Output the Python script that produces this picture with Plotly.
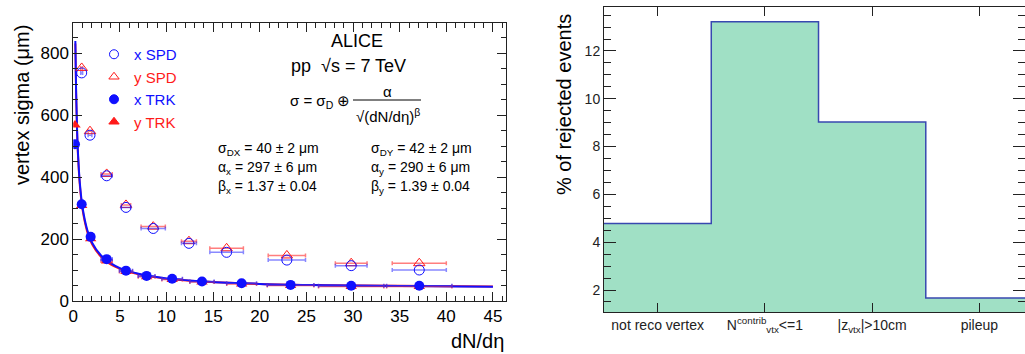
import numpy as np
import plotly.graph_objects as go

# ---------------- data: left panel (vertex resolution vs dN/deta) ----------------
trk_x = [0.18, 0.9, 1.86, 3.58, 5.65, 7.86, 10.6, 13.8, 18.05, 23.3, 29.8, 37.1]
trk_xerr = [0.1, 0.2, 0.3, 0.6, 0.7, 0.9, 1.1, 1.3, 1.6, 2.5, 3.5, 3.5]
trk_sigma_x = [506, 312, 207, 135, 98, 81, 72, 63, 57, 52, 49, 49]
trk_sigma_y = [568, 308, 201, 129, 95, 78, 69, 61, 55, 50, 47, 47]

spd_x = [0.9, 1.79, 3.58, 5.65, 8.57, 12.4, 16.44, 22.9, 29.8, 37.1]
spd_xerr = [0.1, 0.2, 0.6, 0.5, 1.3, 0.8, 1.8, 2.0, 1.7, 2.9]
spd_sigma_x = [736, 535, 404, 302, 234, 186, 157, 132, 114, 100]
spd_sigma_y = [752, 548, 410, 310, 240, 193, 170, 147, 122, 122]

# fit curves
fit_d = [0.22, 0.3, 0.4, 0.5, 0.7, 1.0, 1.5, 2, 3, 4, 5, 7, 10, 14, 20, 27, 35, 45]
fit_sigma_x = [839, 679, 558, 479, 381, 300, 229, 189, 146, 122, 106, 88, 73, 63, 55, 51, 48, 46]
fit_sigma_y = [831, 671, 550, 471, 374, 293, 223, 184, 142, 118, 104, 86, 72, 63, 55, 51, 49, 47]

x_ticks = [0, 5, 10, 15, 20, 25, 30, 35, 40, 45]
y_ticks = [0, 200, 400, 600, 800]

# ---------------- data: right panel (rejected events) ----------------
categories = ["not reco vertex", "N<sup>contrib</sup><sub>vtx</sub>&lt;=1",
              "|z<sub>vtx</sub>|&gt;10cm", "pileup"]
rejected_pct = [4.78, 13.22, 9.03, 1.67]
y2_ticks = [2, 4, 6, 8, 10, 12]

W, H = 1025, 354
def px(x):
    return x / W
def py(y):
    return 1 - y / H

BLUE = "#1010ff"
RED = "#ff1a1a"
FONT = "Liberation Sans, Arial, sans-serif"

fig = go.Figure()

# fit curves
fig.add_trace(go.Scatter(x=fit_d, y=fit_sigma_y, mode="lines", line=dict(color=RED, width=2, shape="spline"),
                         showlegend=False, xaxis="x", yaxis="y"))
fig.add_trace(go.Scatter(x=fit_d, y=fit_sigma_x, mode="lines", line=dict(color=BLUE, width=2, shape="spline"),
                         showlegend=False, xaxis="x", yaxis="y"))

# SPD points
fig.add_trace(go.Scatter(x=spd_x, y=spd_sigma_y, mode="markers",
                         marker=dict(symbol="triangle-up-open", size=10, color=RED, line=dict(width=1, color=RED)),
                         error_x=dict(type="data", array=spd_xerr, color="rgba(255,40,40,0.6)", thickness=1.5, width=2),
                         showlegend=False))
fig.add_trace(go.Scatter(x=spd_x, y=spd_sigma_x, mode="markers",
                         marker=dict(symbol="circle-open", size=10, color=BLUE, line=dict(width=1, color=BLUE)),
                         error_x=dict(type="data", array=spd_xerr, color="rgba(40,40,255,0.55)", thickness=1.5, width=2),
                         showlegend=False))
# TRK points
fig.add_trace(go.Scatter(x=trk_x, y=trk_sigma_y, mode="markers",
                         marker=dict(symbol="triangle-up", size=10, color=RED),
                         error_x=dict(type="data", array=trk_xerr, color="rgba(255,40,40,0.7)", thickness=1.5, width=2),
                         showlegend=False))
fig.add_trace(go.Scatter(x=trk_x, y=trk_sigma_x, mode="markers",
                         marker=dict(symbol="circle", size=10, color=BLUE),
                         error_x=dict(type="data", array=trk_xerr, color="rgba(40,40,255,0.7)", thickness=1.5, width=2),
                         showlegend=False))

# legend-only entries
leg = [("x SPD", "circle-open", BLUE), ("y SPD", "triangle-up-open", RED),
       ("x TRK", "circle", BLUE), ("y TRK", "triangle-up", RED)]
for name, sym, col in leg:
    fig.add_trace(go.Scatter(x=[None], y=[None], mode="markers",
                             marker=dict(symbol=sym, size=9, color=col, line=dict(width=1, color=col)),
                             name=f"<span style='color:{col}'>{name}</span>", showlegend=True))

# right panel step histogram
edges = np.arange(len(rejected_pct) + 1) - 0.5
step_y = list(rejected_pct) + [rejected_pct[-1]]
fig.add_trace(go.Scatter(x=edges, y=step_y, mode="lines", line=dict(shape="hv", color="#3848b0", width=1.5),
                         fill="tozeroy", fillcolor="#a0e0c5", showlegend=False, xaxis="x2", yaxis="y2"))

axis_common = dict(showline=True, linecolor="#222", linewidth=1, mirror="ticks", ticks="inside",
                   tickcolor="#222", zeroline=False, showgrid=False, automargin=False,
                   tickfont=dict(family=FONT, size=17, color="black"))

fig.update_layout(
    width=W, height=H,
    margin=dict(l=0, r=0, t=0, b=0, pad=0, autoexpand=False),
    paper_bgcolor="white", plot_bgcolor="white",
    font=dict(family=FONT, color="black"),
    xaxis=dict(domain=[px(73.3), px(506)], range=[0, 46.4], anchor="y",
               tickvals=x_ticks, ticklen=9,
               minor=dict(dtick=1, ticklen=5, ticks="inside", tickcolor="#222"),
               **axis_common),
    yaxis=dict(domain=[py(301), py(23)], range=[0, 897], anchor="x",
               tickvals=y_ticks, ticklen=9,
               minor=dict(dtick=50, ticklen=5, ticks="inside", tickcolor="#222"),
               **axis_common),
    xaxis2=dict(domain=[px(604), 1.0], range=[-0.5, 3.425], anchor="y2",
                tickvals=list(range(len(categories))), ticktext=categories, ticklen=9,
                **{**axis_common, "tickfont": dict(family=FONT, size=14, color="#222")}),
    yaxis2=dict(domain=[py(312), py(7)], range=[1.08, 13.84], anchor="x2",
                tickvals=y2_ticks, ticklen=12,
                minor=dict(dtick=0.5, ticklen=7, ticks="inside", tickcolor="#222"),
                **{**axis_common, "tickfont": dict(family=FONT, size=14, color="#222")}),
    legend=dict(x=px(94), y=py(38), xanchor="left", yanchor="top", bgcolor="rgba(0,0,0,0)",
                font=dict(family=FONT, size=15), itemwidth=30, tracegroupgap=0),
)

ann = []
def A(text, x, y, size, xanchor="center", angle=0, color="black"):
    ann.append(dict(text=text, x=px(x), y=py(y), xref="paper", yref="paper", showarrow=False,
                    xanchor=xanchor, yanchor="middle", textangle=angle,
                    font=dict(family=FONT, size=size, color=color)))

A("ALICE", 357, 41, 18)
A("pp  √s = 7 TeV", 348, 66, 18)
A("σ = σ<sub>D</sub> ⊕", 352, 101, 15, xanchor="right")
A("α", 387, 91, 15)
A("√(dN/dη)<sup>β</sup>", 388, 116, 15)
A("σ<sub>DX</sub> = 40 ± 2 μm", 216, 149, 14, xanchor="left")
A("α<sub>x</sub> = 297 ± 6 μm", 216, 168, 14, xanchor="left")
A("β<sub>x</sub> = 1.37 ± 0.04", 216, 187, 14, xanchor="left")
A("σ<sub>DY</sub> = 42 ± 2 μm", 369, 149, 14, xanchor="left")
A("α<sub>y</sub> = 290 ± 6 μm", 369, 168, 14, xanchor="left")
A("β<sub>y</sub> = 1.39 ± 0.04", 369, 187, 14, xanchor="left")
A("vertex sigma (μm)", 22, 105, 20, angle=-90)
A("dN/dη", 506, 341, 20, xanchor="right")
A("% of rejected events", 564, 105, 20, angle=-90)
fig.update_layout(annotations=ann)

fig.add_shape(type="line", xref="paper", yref="paper", x0=px(353), x1=px(421), y0=py(100), y1=py(100),
              line=dict(color="black", width=1))

fig.write_html("out.html", config={"displayModeBar": False},
               post_script="document.body.style.margin='0px';document.body.style.overflow='hidden';")
